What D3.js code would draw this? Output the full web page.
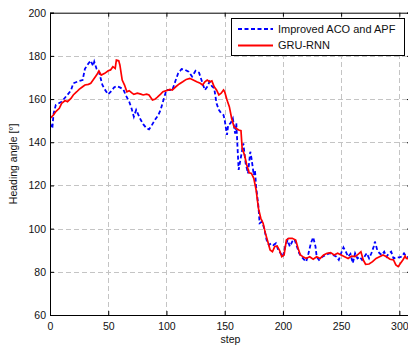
<!DOCTYPE html>
<html>
<head>
<meta charset="utf-8">
<script src="https://cdn.jsdelivr.net/npm/d3@7"></script>
<style>
  body { margin: 0; background: #fff; }
  svg { display: block; font-family: "Liberation Sans", Arial, sans-serif; }
</style>
</head>
<body>
<svg id="chart"></svg>
<script>
// Improved ACO and APF (blue dashed)
const acoSteps = [0, 2, 3, 5, 10, 15, 18, 20, 25, 28, 30, 33, 35, 37, 38, 40, 42, 45, 47, 50, 53, 55, 57, 60, 63, 65, 68, 70, 72, 74, 76, 78, 80, 83, 85, 87, 90, 93, 95, 97, 100, 105, 108, 110, 113, 116, 119, 122, 125, 128, 131, 133, 135, 137, 139, 141, 143, 145, 147, 149, 150, 152, 153, 155, 157, 159, 160, 162, 164, 166, 168, 170, 172, 173, 175, 176, 177, 179, 180, 182, 184, 186, 188, 190, 192, 194, 196, 198, 200, 202, 204, 206, 208, 210, 212, 214, 216, 218, 220, 222, 224, 226, 228, 229, 231, 234, 237, 240, 243, 246, 248, 250, 252, 254, 256, 258, 260, 262, 264, 266, 268, 270, 272, 274, 276, 278, 279, 281, 283, 285, 287, 289, 291, 293, 295, 297, 300, 302, 304, 306, 310];
const acoAngles = [148.8, 146.4, 153, 157.3, 158.8, 162, 164, 167.3, 168.4, 168.8, 174, 176.5, 177.8, 175.3, 177.3, 174, 172.7, 166.5, 164.5, 162.2, 163.9, 165.4, 166, 165.4, 164.5, 161.9, 158.8, 155.7, 151.8, 155, 152.6, 150.3, 148.4, 146.4, 146, 147.5, 150.3, 152.6, 155, 158.8, 164.2, 164.2, 168.8, 171.9, 173.9, 173.5, 172.7, 170.4, 173.1, 172.2, 167.3, 164.2, 165.7, 168, 166, 165, 158, 155, 153.4, 152.6, 150.3, 143.4, 148, 148.8, 151, 144, 148.8, 127.2, 133.3, 139.5, 130.2, 125.6, 135.6, 132.6, 124.8, 127.2, 119.4, 110.2, 102.5, 103.2, 100.1, 94.7, 92.4, 93.2, 92.4, 93.2, 90.1, 88.6, 87, 91.7, 94.7, 91.7, 94, 95, 91.7, 88.6, 87, 85.8, 84.7, 88.6, 93.2, 96, 91.7, 87, 85.5, 87, 87.8, 88.6, 87.8, 87, 85.5, 88.6, 91.3, 89.3, 87, 88.3, 84, 88.6, 86.2, 87, 85.5, 87, 88.6, 86.2, 88.6, 91.7, 94, 90.1, 88.6, 87.8, 89.3, 87, 88.6, 89.3, 86.2, 86.7, 86.7, 87, 88.6, 87, 86.5];

// GRU-RNN (red solid)
const gruSteps = [0, 3, 5, 8, 10, 13, 15, 18, 20, 23, 25, 28, 30, 33, 35, 37, 40, 42, 44, 47, 50, 52, 54, 56, 57, 59, 60, 62, 64, 66, 68, 70, 72, 75, 78, 80, 83, 85, 88, 90, 92, 95, 97, 100, 103, 105, 108, 111, 114, 117, 120, 123, 126, 129, 131, 133, 135, 137, 139, 141, 143, 145, 147, 149, 150, 152, 154, 156, 158, 160, 162, 164, 165, 167, 169, 171, 173, 175, 177, 179, 181, 183, 185, 187, 189, 191, 193, 195, 197, 199, 201, 203, 205, 208, 211, 213, 215, 218, 220, 223, 226, 229, 232, 235, 238, 241, 244, 247, 250, 253, 256, 259, 262, 265, 267, 269, 271, 274, 277, 280, 283, 286, 289, 292, 295, 297, 299, 301, 303, 305, 306, 310];
const gruAngles = [151, 152.6, 154.2, 155.7, 158, 159.3, 158.8, 160.3, 161.9, 163.4, 164.5, 165.7, 166.5, 166.8, 167.3, 168.8, 171.1, 173, 171.1, 171.9, 173.1, 173.5, 175, 174.2, 178.1, 177.8, 175.8, 168.8, 166.5, 163.4, 163.9, 163, 162.2, 162.7, 162.3, 161.9, 162.3, 161.9, 159.6, 159.9, 160.8, 162.3, 163.4, 163.9, 164.5, 164.2, 165.7, 167, 168, 169.1, 169.6, 168.8, 168, 167.3, 166.5, 168, 168.8, 168, 168.4, 165.7, 164.2, 161.9, 162.7, 164.2, 163.4, 159.6, 156.5, 151, 147.2, 146.4, 145.7, 145.4, 137.2, 134.1, 129.5, 125.9, 125.6, 123.3, 117.9, 109.4, 104.8, 102.5, 97.8, 94, 90.1, 89.3, 91.7, 92, 90.1, 87, 87.8, 94.7, 95.5, 95.5, 94.7, 90.9, 87.8, 86.7, 86.2, 87, 85.8, 87, 86.2, 87.8, 88.6, 88.9, 87.8, 88.6, 87.8, 87, 86.2, 87.3, 87, 88.3, 89.3, 85.5, 83.5, 83.6, 84.7, 86.2, 87, 87.8, 87, 85.8, 85.5, 83.2, 82.4, 84, 85.5, 87.3, 86.2, 86];

const xTicks = [0, 50, 100, 150, 200, 250, 300];
const yTicks = [60, 80, 100, 120, 140, 160, 180, 200];
const seriesNames = ["Improved ACO and APF", "GRU-RNN"];

const width = 408, height = 347;
const margin = { top: 12.7, left: 50, right: -3, bottom: 32 };
const svg = d3.select("#chart").attr("width", width).attr("height", height);

const x = d3.scaleLinear().domain([0, 310]).range([margin.left, width - margin.right]);
const y = d3.scaleLinear().domain([60, 200]).range([height - margin.bottom, margin.top]);

const x0 = x.range()[0], x1 = x.range()[1], y0 = y.range()[0], y1 = y.range()[1];

svg.append("defs").append("clipPath").attr("id", "plot")
  .append("rect").attr("x", x0).attr("y", y1).attr("width", x1 - x0).attr("height", y0 - y1);

// grid
const grid = svg.append("g").attr("stroke", "#c4c4c4").attr("stroke-width", 1).attr("stroke-dasharray", "5,3");
grid.selectAll(".gx").data(xTicks.slice(1)).join("line")
  .attr("x1", d => Math.round(x(d)) + 0.5).attr("x2", d => Math.round(x(d)) + 0.5)
  .attr("y1", y0).attr("y2", y1);
grid.selectAll(".gy").data(yTicks.slice(1, -1)).join("line")
  .attr("y1", d => Math.round(y(d)) + 0.5).attr("y2", d => Math.round(y(d)) + 0.5)
  .attr("x1", x0).attr("x2", x1);

// series
const lineOf = (steps, vals) => d3.line().x(i => x(steps[i])).y(i => y(vals[i]))(d3.range(steps.length));
const lines = svg.append("g").attr("clip-path", "url(#plot)").attr("fill", "none");
lines.append("path").attr("d", lineOf(acoSteps, acoAngles))
  .attr("stroke", "#0000ff").attr("stroke-width", 1.8).attr("stroke-dasharray", "4,2.5");
lines.append("path").attr("d", lineOf(gruSteps, gruAngles))
  .attr("stroke", "#ff0000").attr("stroke-width", 1.7);

// axes
const tickLen = 4;
const axB = svg.append("g").attr("transform", `translate(0,${y0})`)
  .call(d3.axisBottom(x).tickValues(xTicks).tickSize(-tickLen).tickPadding(8));
const axT = svg.append("g").attr("transform", `translate(0,${y1})`)
  .call(d3.axisTop(x).tickValues(xTicks).tickSize(-tickLen).tickFormat(""));
const axL = svg.append("g").attr("transform", `translate(${x0},0)`)
  .call(d3.axisLeft(y).tickValues(yTicks).tickSize(-tickLen).tickPadding(4));
const axR = svg.append("g").attr("transform", `translate(${x1},0)`)
  .call(d3.axisRight(y).tickValues(yTicks).tickSize(-tickLen).tickFormat(""));
[axB, axT, axL, axR].forEach(a => {
  a.select(".domain").attr("stroke", "#000").attr("stroke-width", 1);
  a.selectAll(".tick line").attr("stroke", "#000");
  a.selectAll("text").attr("font-size", 10.5).attr("fill", "#111")
    .attr("font-family", "'Liberation Sans', Arial, sans-serif");
});

// axis labels
svg.append("text").attr("x", (x0 + x1) / 2).attr("y", 343)
  .attr("text-anchor", "middle").attr("font-size", 10.5).attr("fill", "#111").text("step");
svg.append("text").attr("transform", `translate(17,${(y0 + y1) / 2}) rotate(-90)`)
  .attr("text-anchor", "middle").attr("font-size", 10.5).attr("fill", "#111").text("Heading angle [°]");

// legend
const lg = svg.append("g");
lg.append("rect").attr("x", 231.5).attr("y", 18.5).attr("width", 173).attr("height", 37)
  .attr("fill", "#fff").attr("stroke", "#000").attr("stroke-width", 1);
const legendStyles = [
  { color: "#0000ff", dash: "4,2.5" },
  { color: "#ff0000", dash: null }
];
seriesNames.forEach((name, i) => {
  const yy = 29 + i * 16.5;
  lg.append("line").attr("x1", 238).attr("x2", 273).attr("y1", yy).attr("y2", yy)
    .attr("stroke", legendStyles[i].color).attr("stroke-width", 1.8)
    .attr("stroke-dasharray", legendStyles[i].dash);
  lg.append("text").attr("x", 278).attr("y", yy).attr("dy", "0.35em")
    .attr("font-size", 11).attr("fill", "#111").text(name);
});
</script>
</body>
</html>
